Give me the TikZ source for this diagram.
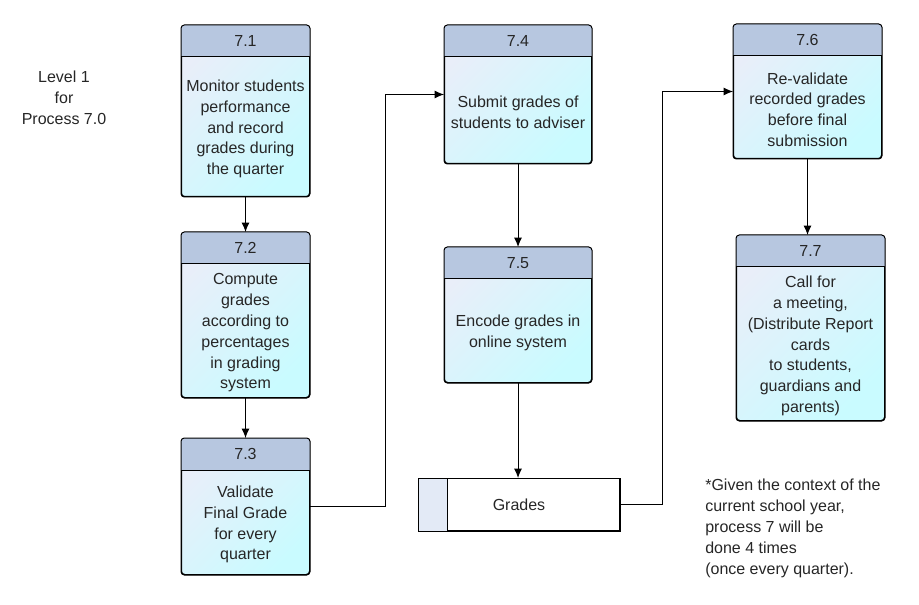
\documentclass[tikz,border=0pt]{standalone}
\usepackage{fontspec}
\setmainfont{Liberation Sans}
\usetikzlibrary{arrows.meta,calc,positioning}
\definecolor{headblue}{HTML}{B7C7E0}
\definecolor{bodytop}{HTML}{E9EEF9}
\definecolor{bodybot}{HTML}{C9FBFF}
\definecolor{storeblue}{HTML}{E3EAF6}
\definecolor{inktext}{HTML}{262626}
\tikzset{
  procbody/.style={draw,line width=.75pt,rounded corners=2.5pt,inner sep=0pt,anchor=north west,
    top color=bodytop,bottom color=bodybot,shading angle=45},
  store/.style={draw,line width=.75pt,inner sep=0pt,anchor=north west,fill=white},
  flow/.style={line width=.75pt,-{Latex[length=7pt,width=6pt]}}
}
\begin{document}
\begin{tikzpicture}[x=.75pt,y=-.75pt,font=\fontsize{12}{15.6}\selectfont,text=inktext]
\useasboundingbox (0,0) rectangle (919,605);
% processes of level 1
\foreach \n/\x/\y/\w/\h/\txt in {
  1/181/25/128/171/{Monitor students\\performance\\and record\\grades during\\the quarter},
  2/181/232/128/165/{Compute\\grades\\according to\\percentages\\in grading\\system},
  3/181/438/128/136/{Validate\\Final Grade\\for every\\quarter},
  4/444/25/147/138/{Submit grades of\\students to adviser},
  5/444/247/147/135/{Encode grades in\\online system},
  6/733/24/148/134/{Re-validate\\recorded grades\\before final\\submission},
  7/736/235/148/185/{Call for\\a meeting,\\(Distribute Report\\cards\\to students,\\guardians and\\parents)}}{
  \node[procbody,minimum width=\w*.75pt,minimum height=\h*.75pt] (p\n) at (\x,\y) {};
  \begin{scope}
    \clip[rounded corners=2.5pt] (p\n.north west) rectangle (p\n.south east);
    \fill[headblue] (p\n.north west) rectangle ($(p\n.north east)+(0,32)$);
  \end{scope}
  \draw[line width=.75pt] ($(p\n.north west)+(0,32)$) -- ($(p\n.north east)+(0,32)$);
  \draw[line width=.75pt,rounded corners=2.5pt] (p\n.north west) rectangle (p\n.south east);
  \node (h\n) at ($(p\n.north)+(0,16)$) {7.\n};
  \node[align=center] (t\n) at ($(p\n.north)!.5!(p\n.south)+(0,18)$) {\txt};
}
% data store
\node[store,minimum width=201*.75pt,minimum height=52*.75pt] (ds) at (418,478) {Grades};
\fill[storeblue] (ds.north west) rectangle ($(ds.south west)+(29,0)$);
\draw[line width=.75pt] ($(ds.north west)+(29,0)$) -- ($(ds.south west)+(29,0)$);
\draw[line width=.75pt] (ds.north west) rectangle (ds.south east);
% texts
\node[align=center] (lvl) at (64,98) {Level 1\\for\\Process 7.0};
\node[anchor=north west,align=left,inner sep=0pt] (note) at (705,479)
  {*Given the context of the\\current school year,\\process 7 will be\\done 4 times\\(once every quarter).};
% flows
\draw[flow] (p1.south) -- (p2.north);
\draw[flow] (p2.south) -- (p3.north);
\draw[flow] (p3.east) -- ++(75,0) |- (p4.west);
\draw[flow] (p4.south) -- (p5.north);
\draw[flow] (p5.south) -- (p5.south |- ds.north);
\draw[flow] (ds.east) -- ++(42,0) |- (p6.west);
\draw[flow] (p6.south) -- (p6.south |- p7.north);
\end{tikzpicture}
\end{document}
